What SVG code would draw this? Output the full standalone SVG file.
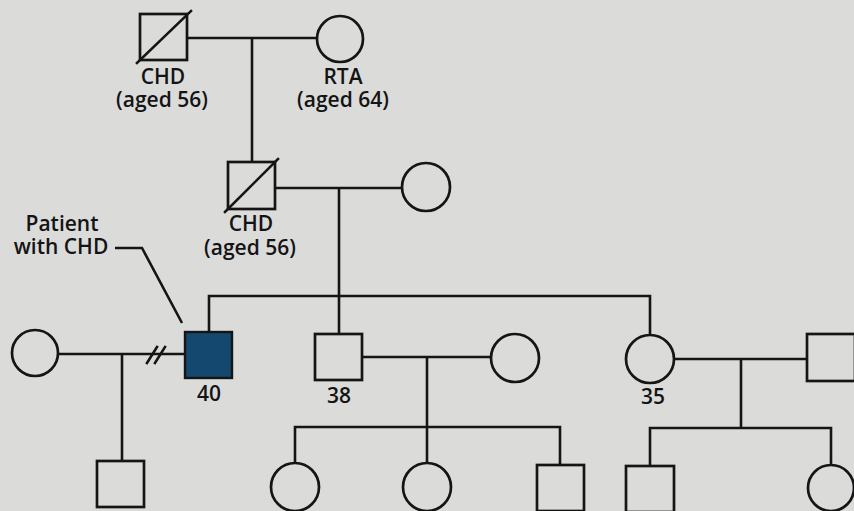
<svg xmlns="http://www.w3.org/2000/svg" width="854" height="511" viewBox="0 0 854 511">
  <style>
    .ln { fill: none; stroke: #151515; stroke-width: 2.6; stroke-linecap: square; }
    .sym { fill: #dbdcda; stroke: #151515; stroke-width: 2.7; }
    .aff { fill: #15486e; stroke: #151515; stroke-width: 2.4; }
    .lbl { font-family: "Open Sans", "DejaVu Sans", sans-serif; font-size: 21px; font-weight: 600; fill: #141414; text-anchor: middle; }
  </style>
  <rect width="854" height="511" fill="#dbdcda"/>

  <!-- connectors: marriage lines, descent lines, sibships -->
  <g id="connectors" class="ln">
    <path d="M187,38 H317 M252,38 V162"/>
    <path d="M275,188 H402 M339,188 V334"/>
    <path d="M209,332 V296 H650 V335"/>
    <path d="M58,354 H185 M122,354 V461"/>
    <path d="M147,363 L157,347 M155,363 L165,347"/>
    <path d="M362,357 H491 M427,357 V463 M295,427 H560 M295,427 V463 M560,427 V465"/>
    <path d="M674,359 H807 M741,359 V428 M650,428 H831 M650,428 V466 M831,428 V465"/>
    <path d="M115,248 H142 L182,323" stroke-linecap="butt"/>
  </g>

  <!-- generation I -->
  <g id="grandfather">
    <rect class="sym" x="140" y="14" width="47" height="46"/>
    <path class="ln" d="M137,63 L191,11" stroke-linecap="butt"/>
    <text class="lbl" x="163" y="84">CHD</text>
    <text class="lbl" x="162" y="107">(aged 56)</text>
  </g>
  <g id="grandmother">
    <circle class="sym" cx="340" cy="39" r="23"/>
    <text class="lbl" x="343" y="84">RTA</text>
    <text class="lbl" x="343" y="107">(aged 64)</text>
  </g>

  <!-- generation II -->
  <g id="father">
    <rect class="sym" x="228" y="162" width="47" height="47"/>
    <path class="ln" d="M225,212 L278,159" stroke-linecap="butt"/>
    <text class="lbl" x="251" y="231">CHD</text>
    <text class="lbl" x="250" y="255">(aged 56)</text>
  </g>
  <g id="mother">
    <circle class="sym" cx="426" cy="187" r="24"/>
  </g>

  <!-- generation III -->
  <g id="patient-label">
    <text class="lbl" x="62" y="231">Patient</text>
    <text class="lbl" x="61" y="254">with CHD</text>
  </g>
  <g id="patient">
    <rect class="aff" x="185" y="332" width="47" height="46"/>
    <text class="lbl" x="209" y="401">40</text>
  </g>
  <g id="patient-ex-wife">
    <circle class="sym" cx="35" cy="353" r="23"/>
  </g>
  <g id="brother">
    <rect class="sym" x="315" y="334" width="47" height="46"/>
    <text class="lbl" x="339" y="403">38</text>
  </g>
  <g id="brother-wife">
    <circle class="sym" cx="515" cy="358" r="24"/>
  </g>
  <g id="sister">
    <circle class="sym" cx="650" cy="359" r="24"/>
    <text class="lbl" x="653" y="404">35</text>
  </g>
  <g id="sister-husband">
    <rect class="sym" x="807" y="334" width="48" height="47"/>
  </g>

  <!-- generation IV -->
  <g id="patient-son">
    <rect class="sym" x="97" y="461" width="47" height="46"/>
  </g>
  <g id="brother-daughter-1">
    <circle class="sym" cx="295" cy="487" r="24"/>
  </g>
  <g id="brother-daughter-2">
    <circle class="sym" cx="427" cy="487" r="24"/>
  </g>
  <g id="brother-son">
    <rect class="sym" x="537" y="465" width="47" height="46"/>
  </g>
  <g id="sister-son">
    <rect class="sym" x="626" y="466" width="48" height="46"/>
  </g>
  <g id="sister-daughter">
    <circle class="sym" cx="831" cy="488" r="23"/>
  </g>
</svg>
